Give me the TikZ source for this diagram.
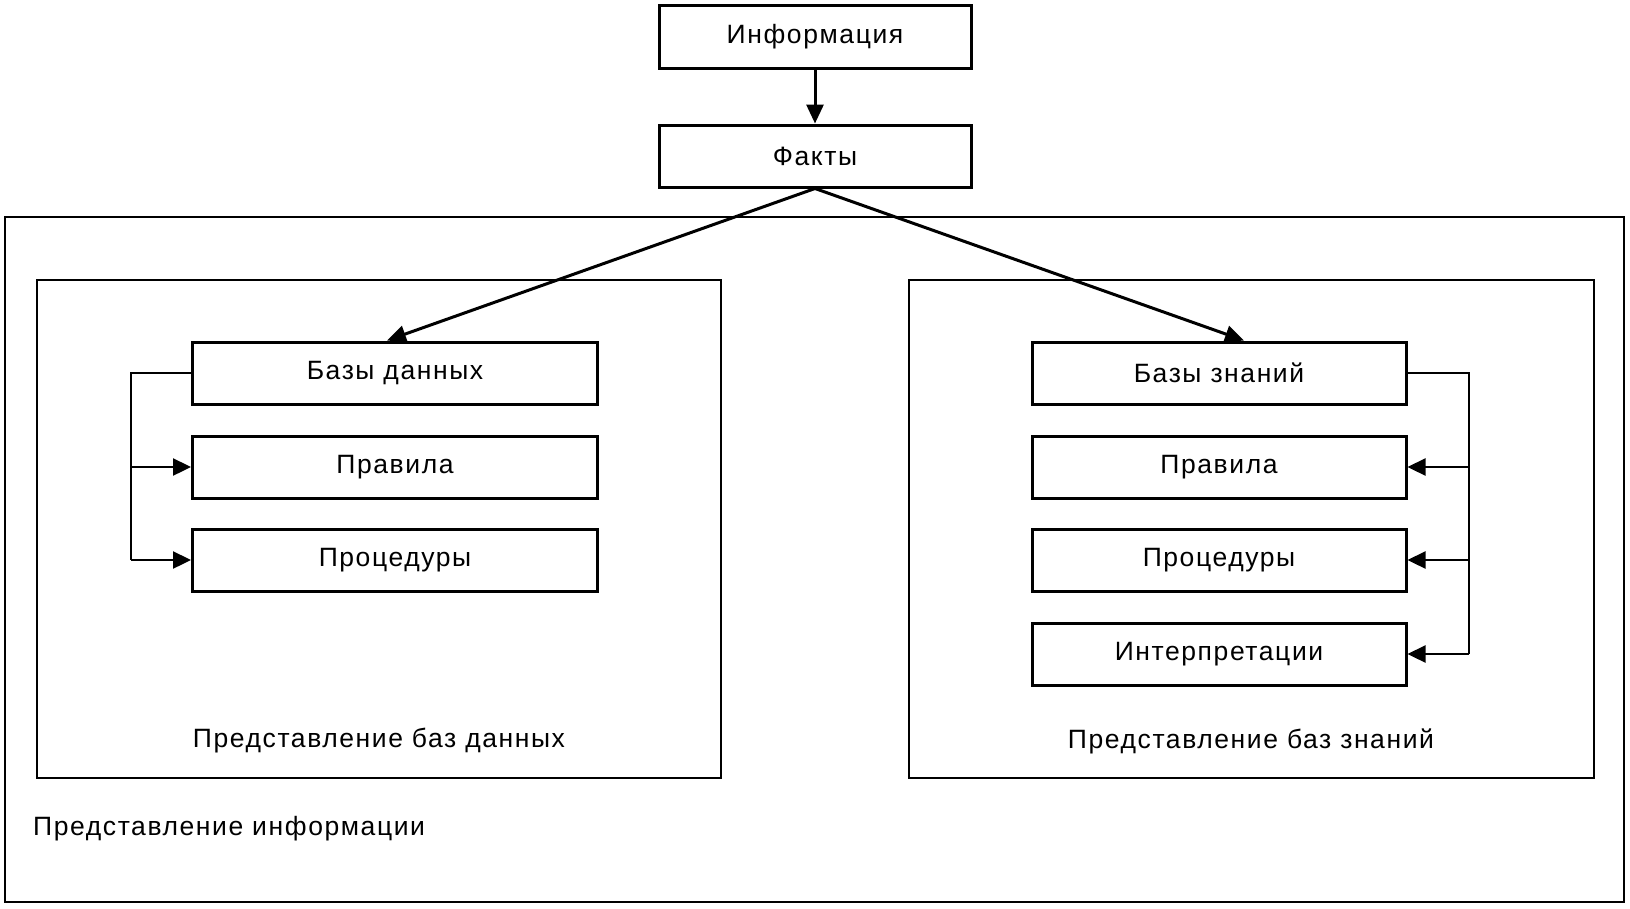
\documentclass[tikz,border=0pt]{standalone}
\usepackage{fontspec}
\setmainfont[LetterSpace=6]{Liberation Sans}
\usetikzlibrary{arrows.meta,calc}
\tikzset{
  box/.style={draw, line width=3pt, minimum height=62pt, inner sep=0pt, font=\fontsize{26.5}{30}\selectfont},
  frame/.style={draw, line width=2.6pt},
  lbl/.style={inner sep=0pt, font=\fontsize{26.5}{30}\selectfont},
  arr/.style={line width=3pt, -{Triangle[length=19pt,width=17pt]}},
  br/.style={line width=2.4pt, -{Triangle[length=18pt,width=17pt]}}
}
\begin{document}
\begin{tikzpicture}[x=1pt,y=-1pt]
\useasboundingbox (0,0) rectangle (1630,908);
\draw[frame] (5,217) rectangle (1624,902);
\draw[frame] (37,280) rectangle (721,778);
\draw[frame] (909,280) rectangle (1594,778);

\node[box, minimum width=312pt, minimum height=63pt] (info) at (815,37) {Информация};
\node[box, minimum width=312pt] (facts) at (815,156) {Факты};

\node[box, minimum width=405pt] (bd) at (395,373) {Базы данных};
\node[box, minimum width=405pt] (pl) at (395,467) {Правила};
\node[box, minimum width=405pt] (prl) at (395,560) {Процедуры};

\node[box, minimum width=374pt] (bz) at (1219,373) {Базы знаний};
\node[box, minimum width=374pt] (pr) at (1219,467) {Правила};
\node[box, minimum width=374pt] (prr) at (1219,560) {Процедуры};
\node[box, minimum width=374pt] (int) at (1219,654) {Интерпретации};

\node[lbl] (lblbd) at (379,741) {Представление баз данных};
\node[lbl] (lblbz) at (1251,741) {Представление баз знаний};
\node[lbl, anchor=west] (lblinfo) at (33,829) {Представление информации};

\coordinate (lx) at (131,0);
\coordinate (rx) at (1469,0);
\coordinate (bdt) at ($(bd.north)+(-8,0)$);
\coordinate (bzt) at ($(bz.north)+(25,0)$);

\draw[arr] (info.south) -- (facts.north);
\draw[arr] (facts.south) -- (bdt);
\draw[arr] (facts.south) -- (bzt);

\draw[line width=2.4pt] (bd.west) -- (bd.west -| lx) -- (prl.west -| lx);
\draw[br] (pl.west -| lx) -- (pl.west);
\draw[br] (prl.west -| lx) -- (prl.west);

\draw[line width=2.4pt] (bz.east) -- (bz.east -| rx) -- (int.east -| rx);
\draw[br] (pr.east -| rx) -- (pr.east);
\draw[br] (prr.east -| rx) -- (prr.east);
\draw[br] (int.east -| rx) -- (int.east);
\end{tikzpicture}
\end{document}
